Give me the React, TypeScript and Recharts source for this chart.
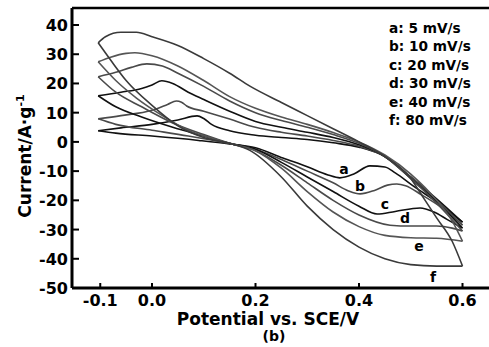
import { LineChart, Line, XAxis, YAxis, ReferenceLine, ReferenceDot } from 'recharts'

type Pt = { x: number; y: number }
const pts = (rows: number[][]): Pt[] => rows.map(([x, y]) => ({ x, y }))

// anodic (upper) and cathodic (lower) branches
const aUp = pts([[-0.104, 3.8], [-0.06, 4.8], [0.0, 6.0], [0.05, 7.5], [0.087, 8.9], [0.1, 8.0], [0.115, 6.0], [0.15, 3.8], [0.2, 2.3], [0.25, 1.5], [0.3, 0.8], [0.35, -0.3], [0.4, -1.8], [0.45, -5], [0.5, -12], [0.55, -19.5], [0.6, -27.5]])
const aDown = pts([[-0.104, 3.8], [-0.07, 3.0], [0.0, 2.0], [0.09, 0.5], [0.15, -0.7], [0.2, -2.0], [0.253, -5.5], [0.3, -8.5], [0.34, -11.3], [0.363, -12.3], [0.39, -11.0], [0.421, -8.2], [0.45, -8.6], [0.47, -10.6], [0.508, -15.5], [0.55, -20.5], [0.6, -27.5]])

const bUp = pts([[-0.104, 7.9], [-0.06, 9.0], [0.0, 10.8], [0.03, 12.8], [0.047, 14.0], [0.057, 13.6], [0.067, 12.3], [0.1, 10.5], [0.15, 7.8], [0.2, 5.0], [0.25, 3.3], [0.3, 2.0], [0.35, 0.5], [0.4, -1.5], [0.45, -5], [0.5, -12], [0.55, -20], [0.6, -28.5]])
const bDown = pts([[-0.104, 7.9], [-0.07, 6.0], [0.0, 4.0], [0.07, 2.0], [0.15, -0.6], [0.2, -2.5], [0.25, -6.0], [0.3, -10.0], [0.35, -14.0], [0.38, -16.8], [0.402, -17.8], [0.43, -16.6], [0.455, -14.8], [0.473, -14.4], [0.49, -15.0], [0.52, -18], [0.56, -22.5], [0.6, -28.5]])

const cUp = pts([[-0.104, 15.8], [-0.06, 17.0], [-0.02, 18.3], [0.0, 19.5], [0.019, 20.9], [0.04, 20.0], [0.07, 17.0], [0.1, 14.5], [0.15, 10.5], [0.2, 7.0], [0.25, 5.0], [0.3, 3.3], [0.35, 1.5], [0.4, -1.0], [0.45, -5], [0.5, -12.5], [0.55, -20.5], [0.6, -29.5]])
const cDown = pts([[-0.104, 15.8], [-0.07, 12.0], [-0.02, 8.5], [0.04, 5.0], [0.1, 2.0], [0.15, -0.5], [0.2, -2.5], [0.25, -7.0], [0.3, -12.0], [0.35, -17.0], [0.4, -22.0], [0.435, -24.7], [0.47, -23.8], [0.518, -22.6], [0.545, -24.0], [0.57, -26.5], [0.6, -29.5]])

const dUp = pts([[-0.104, 22.3], [-0.07, 23.8], [-0.04, 25.5], [-0.01, 26.7], [0.02, 26.0], [0.05, 23.5], [0.1, 19.0], [0.15, 14.0], [0.2, 10.0], [0.25, 7.3], [0.3, 5.0], [0.35, 2.5], [0.4, -0.5], [0.45, -5], [0.5, -12.5], [0.55, -21], [0.6, -30.5]])
const dDown = pts([[-0.104, 22.3], [-0.07, 17.0], [-0.02, 12.0], [0.04, 6.5], [0.1, 2.5], [0.15, -0.5], [0.2, -3.0], [0.25, -8.0], [0.3, -14.0], [0.35, -20.0], [0.4, -25.0], [0.46, -28.5], [0.5, -28.8], [0.55, -28.8], [0.58, -29.5], [0.6, -30.5]])

const eUp = pts([[-0.104, 27.4], [-0.08, 29.0], [-0.05, 30.3], [-0.033, 30.5], [0.0, 29.5], [0.05, 26.0], [0.1, 21.0], [0.15, 15.5], [0.2, 11.5], [0.25, 8.5], [0.3, 6.0], [0.35, 3.2], [0.4, 0.0], [0.45, -4.5], [0.5, -11], [0.55, -20], [0.58, -27], [0.6, -34]])
const eDown = pts([[-0.104, 27.4], [-0.07, 21.0], [-0.03, 15.0], [0.02, 9.0], [0.07, 4.0], [0.12, 1.0], [0.15, -0.5], [0.2, -3.0], [0.25, -9.0], [0.3, -17.0], [0.35, -24.0], [0.4, -29.0], [0.45, -32.0], [0.5, -32.8], [0.55, -33.0], [0.6, -34]])

const fUp = pts([[-0.104, 33.9], [-0.09, 36.0], [-0.06, 37.5], [-0.03, 37.5], [0.0, 36.0], [0.05, 33.0], [0.1, 28.5], [0.15, 23.5], [0.19, 19.0], [0.25, 13.5], [0.3, 9.0], [0.35, 4.5], [0.4, 0.0], [0.45, -5.0], [0.5, -12.5], [0.524, -19], [0.55, -26], [0.58, -34], [0.6, -42.5]])
const fDown = pts([[-0.104, 33.9], [-0.08, 28.0], [-0.05, 21.0], [0.0, 12.5], [0.05, 5.5], [0.1, 1.5], [0.15, -0.5], [0.19, -3.0], [0.25, -12.0], [0.3, -22.0], [0.35, -30.0], [0.4, -36.0], [0.45, -40.0], [0.5, -42.0], [0.55, -42.5], [0.6, -42.5]])

const xTicks = [-0.1, 0, 0.2, 0.4, 0.6]
const yTicks = [-50, -40, -30, -20, -10, 0, 10, 20, 30, 40]
const legendRows = ['a: 5 mV/s', 'b: 10 mV/s', 'c: 20 mV/s', 'd: 30 mV/s', 'e: 40 mV/s', 'f: 80 mV/s']
const curveLabels = [
  { name: 'a', x: 0.371, y: -9.2 },
  { name: 'b', x: 0.402, y: -15.1 },
  { name: 'c', x: 0.45, y: -21.2 },
  { name: 'd', x: 0.489, y: -26.0 },
  { name: 'e', x: 0.516, y: -35.6 },
  { name: 'f', x: 0.543, y: -46.2 },
]

const loops = [
  { id: 'a', up: aUp, down: aDown, color: '#111' },
  { id: 'b', up: bUp, down: bDown, color: '#4a4a4a' },
  { id: 'c', up: cUp, down: cDown, color: '#111' },
  { id: 'd', up: dUp, down: dDown, color: '#4a4a4a' },
  { id: 'e', up: eUp, down: eDown, color: '#555' },
  { id: 'f', up: fUp, down: fDown, color: '#3a3a3a' },
]

const FONT = '"DejaVu Sans", sans-serif'
const Y_TOP = 45.82

function XTick({ x, y, payload }: any) {
  return (
    <g>
      <line x1={x} x2={x} y1={y} y2={y - 5} stroke="#000" strokeWidth={2} />
      <text x={x} y={y + 18} textAnchor="middle" fontFamily={FONT} fontWeight="bold" fontSize={16} fill="#000">
        {Number(payload.value).toFixed(1)}
      </text>
    </g>
  )
}

function YTick({ x, y, payload }: any) {
  return (
    <g>
      <line x1={x} x2={x + 7} y1={y} y2={y} stroke="#000" strokeWidth={2} />
      <text x={x - 4} y={y + 6} textAnchor="end" fontFamily={FONT} fontWeight="bold" fontSize={16} fill="#000">
        {payload.value}
      </text>
    </g>
  )
}

export default function App() {
  return (
    <div style={{ position: 'absolute', left: 0, top: 0, width: 489, height: 347, overflow: 'hidden', background: '#fff' }}>
      <LineChart width={500} height={347} margin={{ top: 8, right: 5, bottom: 29, left: 12 }}>
        <XAxis dataKey="x" type="number" domain={[-0.1546, 0.6628]} allowDataOverflow ticks={xTicks} interval={0}
          tickSize={0} tickMargin={0} tickLine={false} tick={<XTick />} height={30}
          axisLine={{ stroke: '#000', strokeWidth: 3 }} />
        <YAxis type="number" domain={[-50, Y_TOP]} allowDataOverflow ticks={yTicks} interval={0}
          tickSize={0} tickMargin={0} tickLine={false} tick={<YTick />} width={60}
          axisLine={{ stroke: '#000', strokeWidth: 3 }} />
        <ReferenceLine y={Y_TOP} stroke="#000" strokeWidth={2.5} />
        {loops.flatMap(l => [
          <Line key={l.id + 'u'} data={l.up} dataKey="y" type="monotone" stroke={l.color} strokeWidth={1.6} dot={false} isAnimationActive={false} />,
          <Line key={l.id + 'd'} data={l.down} dataKey="y" type="monotone" stroke={l.color} strokeWidth={1.6} dot={false} isAnimationActive={false} />,
        ])}
        {curveLabels.map(c => (
          <ReferenceDot key={c.name} x={c.x} y={c.y} r={0} stroke="none"
            label={{ value: c.name, position: 'center', fontFamily: FONT, fontWeight: 'bold', fontSize: 14, fill: '#000' }} />
        ))}
      </LineChart>
      <svg width={489} height={347} style={{ position: 'absolute', left: 0, top: 0, pointerEvents: 'none' }}>
        <g fontFamily={FONT} fontWeight="bold" fill="#000">
          {legendRows.map((t, i) => (
            <text key={t} x={389} y={33 + i * 18.4} fontSize={13.7}>{t}</text>
          ))}
          <text x={268} y={325} textAnchor="middle" fontSize={17}>Potential vs. SCE/V</text>
          <text x={274} y={341} textAnchor="middle" fontSize={14}>(b)</text>
          <text transform="translate(31,156) rotate(-90)" textAnchor="middle" fontSize={17}>
            Current/A·g<tspan dy={-7} fontSize={11}>-1</tspan>
          </text>
        </g>
      </svg>
    </div>
  )
}
